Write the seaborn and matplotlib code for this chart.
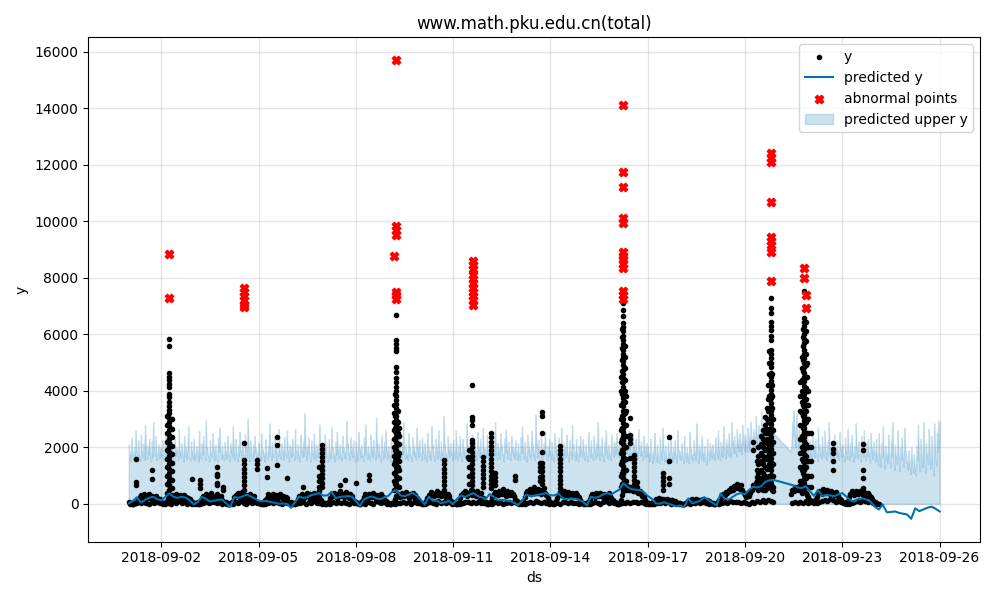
import numpy as np
import pandas as pd
import matplotlib
matplotlib.use("Agg")
import matplotlib.pyplot as plt
import matplotlib.dates as mdates
import seaborn as sns

TITLE = "www.math.pku.edu.cn(total)"
START = "2018-09-01 00:00"
END = "2018-09-26 00:00"

# observed y, hourly (one row per day, 00:00..23:00), None = no data
y_hourly = [
    [80, 30, 10, 0, 40, 20, 60, 150, 240, 310, 200, 350, 270, 160, 260, 330, 200, 290, 240, 150, 280, 210, 100, 170],
    [60, 20, 40, 10, 90, 160, 250, 210, 320, 280, 190, 360, 250, 180, 300, 230, 150, 310, 250, 120, 220, 180, 90, 60],
    [30, 0, 20, 50, 10, 80, 190, 280, 230, 340, 260, 170, 300, 380, 220, 150, 270, 330, 180, 240, 290, 140, 70, 40],
    [50, 10, 0, 30, 20, 110, 230, 300, 260, 370, 210, 290, 410, 250, 180, 320, 270, 200, 350, 230, 160, 260, 110, 60],
    [20, 40, 0, 10, 60, 140, 210, 330, 250, 180, 290, 360, 220, 310, 170, 260, 340, 200, 280, 150, 230, 190, 80, 30],
    [60, 10, 30, 0, 50, 170, 260, 220, 350, 300, 190, 280, 400, 240, 330, 210, 290, 380, 250, 170, 310, 240, 120, 70],
    [40, 20, 0, 30, 80, 200, 310, 260, 390, 330, 220, 300, 450, 280, 360, 240, 310, 420, 260, 190, 330, 270, 150, 90],
    [50, 30, 10, 0, 60, 150, 240, 330, 280, 200, 350, 300, 230, 380, 260, 190, 320, 280, 210, 350, 240, 180, 100, 60],
    [30, 10, 0, 40, 70, 180, 290, 360, 310, 240, 400, 330, 260, 420, 300, 220, 350, 290, 380, 250, 310, 200, 130, 80],
    [40, 20, 0, 30, 90, 210, 320, 280, 410, 350, 260, 380, 460, 300, 390, 270, 340, 430, 290, 220, 360, 260, 150, 70],
    [60, 20, 10, 0, 80, 190, 300, 370, 330, 450, 290, 400, 350, 480, 310, 420, 360, 280, 440, 330, 270, 380, 200, 110],
    [70, 30, 0, 40, 100, 230, 340, 420, 380, 300, 470, 400, 330, 510, 380, 290, 450, 370, 300, 420, 340, 260, 170, 90],
    [50, 20, 30, 0, 110, 250, 380, 460, 400, 540, 350, 480, 610, 420, 370, 520, 440, 330, 490, 560, 380, 300, 190, 100],
    [60, 30, 0, 20, 90, 200, 320, 410, 360, 290, 450, 390, 300, 420, 350, 270, 380, 330, 260, 400, 310, 240, 150, 80],
    [40, 10, 20, 0, 70, 180, 290, 360, 320, 250, 400, 340, 280, 380, 310, 230, 350, 300, 240, 370, 290, 220, 140, 70],
    [50, 20, 0, 30, 120, 300, 450, 560, 500, 620, 480, 580, 520, 450, 600, 500, 420, 380, 460, 330, 280, 240, 150, 80],
    [40, 10, 0, 20, 60, 110, 170, 140, 200, 160, 120, 180, 150, 100, 170, 130, 90, 150, 120, 80, 110, 70, 40, 20],
    [20, 0, 10, 0, 30, 60, 110, 150, 120, 180, 140, 100, 160, 130, 90, 150, 120, 170, 110, 80, 130, 90, 50, 30],
    [20, 0, 10, 30, 50, 120, 200, 280, 350, 300, 420, 380, 500, 450, 560, 480, 620, 550, 700, 600, 520, 650, 480, 400],
    [300, 250, 350, 280, 400, 500, 650, 580, 720, 800, 680, 900, 760, 850, 700, 950, 820, 700, 880, 600, 500, 450, None, None],
    [None, None, None, None, None, None, None, None, None, None, 350, 500, 450, 600, 550, 480, 620, 520, 400, 560, 470, 380, 300, 250],
    [150, 100, 80, 60, 120, 250, 380, 470, 420, 350, 510, 440, 380, 480, 400, 330, 450, 390, 310, 420, 350, 280, 180, 120],
    [80, 40, 20, 50, 110, 230, 350, 440, 390, 320, 470, 410, 350, 440, 370, 300, 420, 360, 290, 380, 320, 250, 160, 100],
    [70, 30, 10],
]

# low observed values, every 2 hours (01:00, 03:00, ..., 23:00)
y_low_2h = [
    [10, 0, 30, 50, 20, 80, 40, 10, 60, 30, 70, 20],
    [0, 20, 40, 10, 60, 30, 90, 20, 50, 10, 40, 0],
    [20, 0, 10, 40, 70, 20, 50, 80, 30, 60, 10, 30],
    [0, 30, 10, 60, 20, 90, 40, 10, 70, 30, 50, 20],
    [30, 10, 0, 20, 50, 30, 80, 40, 10, 60, 20, 40],
    [10, 0, 40, 20, 60, 10, 70, 30, 90, 40, 20, 0],
    [0, 20, 10, 50, 30, 80, 20, 60, 40, 10, 70, 30],
    [20, 0, 30, 10, 70, 40, 10, 90, 50, 20, 60, 10],
    [10, 30, 0, 40, 20, 60, 30, 80, 10, 50, 30, 20],
    [0, 10, 20, 60, 40, 10, 90, 30, 70, 20, 50, 10],
    [30, 0, 10, 20, 80, 50, 20, 60, 30, 90, 40, 20],
    [10, 20, 0, 50, 30, 70, 10, 40, 80, 20, 60, 30],
    [0, 30, 10, 40, 60, 20, 90, 50, 30, 70, 40, 10],
    [20, 0, 30, 10, 50, 80, 30, 60, 20, 40, 10, 30],
    [10, 20, 0, 30, 70, 40, 10, 60, 90, 30, 50, 20],
    [0, 10, 30, 20, 60, 40, 80, 50, 30, 70, 20, 10],
    [20, 0, 10, 40, 30, 60, 20, 50, 10, 40, 30, 0],
    [10, 0, 20, 10, 40, 30, 60, 20, 50, 30, 10, 20],
    [0, 20, 10, 30, 60, 40, 90, 70, 50, 80, 30, 60],
    [40, 10, 60, 30, 90, 50, 120, 80, 150, 100, 60, None],
    [None, None, None, None, None, 30, 80, 20, 60, 40, 90, 30],
    [60, 30, 20, 50, 90, 130, 100, 160, 120, 80, 140, 60],
    [30, 10, 0, 40, 70, 110, 80, 130, 90, 60, 100, 40],
    [20, 0],
]

# dense bursts of observed values: (timestamp, values)
bursts = [
    ("2018-09-01 05:00", [1590, 790, 670]),
    ("2018-09-01 17:00", [1200, 880]),
    ("2018-09-02 04:00", [3100, 2800, 2500, 2200, 1900, 1600, 1300, 1000, 700, 400]),
    ("2018-09-02 06:00", [5830, 5580, 4640, 4500, 4380, 4250, 4120, 3900, 3780, 3620, 3480, 3330, 3200, 3050,
                          2900, 2750, 2600, 2450, 2300, 2150, 2000, 1850, 1700, 1550, 1400, 1250, 1100, 950,
                          800, 650, 500]),
    ("2018-09-02 08:00", [3000, 2650, 2350, 2050, 1750, 1450, 1150, 850, 550]),
    ("2018-09-02 23:00", [880]),
    ("2018-09-03 05:00", [850, 700, 550]),
    ("2018-09-03 17:00", [1300, 1060, 980, 740, 660]),
    ("2018-09-03 22:00", [600, 500]),
    ("2018-09-04 13:00", [2150, 1560, 1400, 1250, 1100, 950, 800, 650, 500]),
    ("2018-09-04 23:00", [1560, 1400, 1250]),
    ("2018-09-05 06:00", [1270, 950]),
    ("2018-09-05 14:00", [2380, 2090, 1380]),
    ("2018-09-05 21:00", [920]),
    ("2018-09-06 09:00", [610]),
    ("2018-09-06 21:00", [1300, 1000, 800, 600, 450]),
    ("2018-09-06 23:00", [2090, 1950, 1800, 1650, 1500, 1350, 1200, 1050, 900, 750, 600]),
    ("2018-09-07 12:00", [670]),
    ("2018-09-07 16:00", [850]),
    ("2018-09-08 00:00", [740]),
    ("2018-09-08 10:00", [1030, 850]),
    ("2018-09-09 04:00", [3500, 3200, 2900, 2600, 2300, 2000, 1700, 1400, 1100, 800, 500]),
    ("2018-09-09 05:00", [3900, 3500, 3100, 2700, 2300, 1900, 1500, 1100, 700]),
    ("2018-09-09 06:00", [6680, 5800, 5650, 5500, 5400, 4850, 4650, 4450, 4300, 4150, 4000, 3800, 3680, 3550,
                          3400, 3250, 3100, 2950, 2800, 2650, 2500, 2350, 2200, 2050, 1900, 1750, 1600, 1450,
                          1300, 1150, 1000, 850, 700, 550]),
    ("2018-09-09 07:00", [3300, 2900, 2500, 2100, 1700, 1300, 900]),
    ("2018-09-09 08:00", [2700, 2400, 2100, 1800, 1500, 1200, 900, 600]),
    ("2018-09-10 17:00", [1560, 1400, 1250, 1100, 950, 800, 650, 500]),
    ("2018-09-11 11:00", [1670]),
    ("2018-09-11 12:00", [1900, 1600, 1300, 1000, 700]),
    ("2018-09-11 14:00", [4190, 3090, 2950, 2800, 2270, 2150, 2000, 1850, 1700, 1550, 1400, 1250, 1100, 950,
                          800, 650, 500]),
    ("2018-09-11 22:00", [1650, 1500, 1350, 1200, 1050, 900, 750, 600]),
    ("2018-09-12 04:00", [2500, 2350, 2200, 2050, 1900, 1750, 1600, 1450, 1300, 1150, 1000, 850, 700, 550]),
    ("2018-09-12 07:00", [1100, 950, 800, 650]),
    ("2018-09-12 22:00", [970, 850]),
    ("2018-09-13 16:00", [1450, 1300, 1150, 950, 800]),
    ("2018-09-13 18:00", [3260, 3100, 2500, 1850, 1450, 1300, 1150, 1000, 850, 700]),
    ("2018-09-14 07:00", [2050, 1900, 1750, 1600, 1450, 1300, 1150, 1000, 850, 700, 550]),
    ("2018-09-16 04:00", [4500, 4000, 3500, 3000, 2600, 2200, 1800, 1400, 1000, 600]),
    ("2018-09-16 05:00", [6200, 5900, 5500, 5100, 4700, 4300, 3900, 3500, 3100, 2700, 2300, 1900, 1500, 1100, 700]),
    ("2018-09-16 06:00", [7100, 6870, 6650, 6400, 6250, 6100, 5950, 5800, 5650, 5450, 5300, 5200, 5050, 4900,
                          4750, 4600, 4450, 4300, 4150, 4040, 3900, 3750, 3600, 3450, 3300, 3150, 3000, 2850,
                          2700, 2550, 2400, 2250, 2100, 1950, 1800, 1650, 1500, 1350, 1200, 1050, 900, 750, 600]),
    ("2018-09-16 07:00", [5600, 5200, 4800, 4400, 4000, 3600, 3200, 2800, 2400, 2000, 1600, 1200, 800]),
    ("2018-09-16 08:00", [3800, 3300, 2800, 2400, 2000, 1600, 1200, 800]),
    ("2018-09-16 11:00", [3040, 2440, 2300, 2160, 1630]),
    ("2018-09-16 14:00", [1740, 1600, 1450, 1300, 1150, 1000, 850, 700, 550]),
    ("2018-09-16 16:00", [780, 610]),
    ("2018-09-17 11:00", [1100, 960, 800, 650, 500]),
    ("2018-09-17 16:00", [2380, 1500, 900, 700]),
    ("2018-09-20 06:00", [2200, 1890]),
    ("2018-09-20 09:00", [1500, 1200, 950, 700]),
    ("2018-09-20 10:00", [2000, 1700, 1400, 1100, 800, 500]),
    ("2018-09-20 12:00", [2400, 2100, 1800, 1500, 1200, 900, 600]),
    ("2018-09-20 13:00", [2600, 2300, 2000, 1700, 1400, 1100, 800, 500]),
    ("2018-09-20 15:00", [3090, 2800, 2500, 2200, 1900, 1600, 1300, 1000, 700, 500]),
    ("2018-09-20 16:00", [3400, 3000, 2650, 2300, 1950, 1600, 1250, 900, 550]),
    ("2018-09-20 17:00", [4200, 3700, 3300, 2900, 2500, 2100, 1700, 1300, 900]),
    ("2018-09-20 18:00", [5400, 5000, 4600, 4200, 3800, 3400, 3000, 2600, 2200, 1800, 1400, 1000, 600]),
    ("2018-09-20 19:00", [7280, 6940, 6760, 6450, 6300, 6150, 5950, 5800, 5450, 5300, 5150, 5000, 4860, 4630,
                          4480, 4330, 4180, 4030, 3880, 3730, 3580, 3430, 3280, 3130, 2980, 2830, 2680, 2530,
                          2380, 2230, 2080, 1930, 1780, 1630, 1480, 1330, 1180, 1030, 880, 730, 580]),
    ("2018-09-20 20:00", [4600, 4200, 3800, 3400, 3000, 2600, 2200, 1800, 1400, 1000, 600]),
    ("2018-09-20 21:00", [3000, 2600, 2200, 1800, 1400, 1000, 600]),
    ("2018-09-21 17:00", [4300, 3800, 3300, 2800, 2300, 1800, 1300, 800]),
    ("2018-09-21 18:00", [5200, 4800, 4400, 4000, 3600, 3200, 2800, 2400, 2000, 1600, 1200, 800]),
    ("2018-09-21 19:00", [6200, 5900, 5600, 5100, 4700, 4300, 3900, 3500, 3100, 2700, 2300, 1900, 1500, 1100, 700]),
    ("2018-09-21 20:00", [7520, 6580, 6450, 6300, 6160, 6000, 5850, 5700, 5450, 5300, 5150, 5000, 4850, 4630,
                          4480, 4330, 4180, 4030, 3880, 3730, 3580, 3430, 3280, 3130, 2980, 2830, 2680, 2530,
                          2380, 2230, 2080, 1930, 1780, 1630, 1480, 1330, 1180, 1030, 880, 730, 580]),
    ("2018-09-21 21:00", [6450, 6100, 5750, 5300, 4900, 4500, 4100, 3700, 3300, 2900, 2500, 2100, 1700, 1300, 900]),
    ("2018-09-21 22:00", [5000, 4500, 4000, 3500, 3000, 2500, 2000, 1500, 1000]),
    ("2018-09-21 23:00", [4000, 3500, 3000, 2500, 2000, 1500, 1000, 600]),
    ("2018-09-22 01:00", [2500, 2000, 1500, 1000, 600]),
    ("2018-09-22 17:00", [2160, 1950, 1800, 1500, 1200]),
    ("2018-09-23 15:00", [2100, 1900, 1200, 900, 560]),
]

# abnormal points (timestamp, values)
abnormal = [
    ("2018-09-02 06:00", [8850, 7280]),
    ("2018-09-04 13:00", [7650, 7500, 7350, 7200, 7050, 6950]),
    ("2018-09-09 04:00", [8780]),
    ("2018-09-09 06:00", [15700, 9850, 9700, 9500, 7500, 7380, 7250]),
    ("2018-09-11 15:00", [8600, 8450, 8300, 8100, 7950, 7800, 7650, 7500, 7350, 7200, 7050]),
    ("2018-09-16 06:00", [14120, 11730, 11210, 10100, 9950, 8900, 8780, 8650, 8500, 8350, 7550, 7400, 7250]),
    ("2018-09-20 19:00", [12400, 12250, 12100, 10700, 9450, 9300, 9150, 8900, 7870]),
    ("2018-09-21 20:00", [8340, 7990]),
    ("2018-09-21 21:00", [7400, 6930]),
]

# predicted y, every 3 hours (00,03,...,21), None = no ds
yhat_3h = [
    [20, 100, 230, 40, 140, 210, 250, 170],
    [120, 250, 370, 250, 210, 250, 220, 130],
    [-20, 60, 250, 180, 80, 110, 140, 150],
    [20, -120, 240, 210, 260, 320, 270, 190],
    [110, 90, 100, 60, 40, 0, 10, 0],
    [-140, 60, 260, 210, 230, 310, 340, 380],
    [290, 300, 430, 200, 240, 260, 270, 260],
    [100, -80, 160, 220, 260, 200, 160, 230],
    [280, 430, 490, 300, 270, 320, 390, 300],
    [150, -20, 250, 110, 120, 20, 60, 100],
    [-10, 180, 300, 240, 320, 380, 280, 230],
    [160, 350, 250, 130, 140, 120, 90, 40],
    [-40, 100, 320, 280, 280, 320, 350, 380],
    [300, 300, 370, 200, 160, 190, 180, 150],
    [80, -60, 250, 210, 250, 330, 380, 330],
    [420, 500, 730, 600, 520, 500, 490, 420],
    [280, 180, 20, 0, 60, 10, -40, -90],
    [-60, -120, 190, 20, 60, 120, 230, 140],
    [40, -60, 370, 170, 150, 250, 340, 380],
    [340, 490, 600, 580, 620, 780, 830, 850],
    [None, None, None, None, 650, 580, 560, 620],
    [450, 280, 490, 280, 310, 300, 270, 330],
    [380, 260, 120, 80, 180, 190, 150, 70],
    [-100, -200, -30, -300, -290, -270, -320, -350],
    [-380, -530, -160, -260, -200, -140, -100, -170],
]
yhat_end = -270

# predicted upper y, on the hour (00:00..23:00)
upper_hourly = [
    [2100, 1850, 2350, 1700, 2000, 2600, 1800, 2250, 1650, 2450, 1900, 2150, 2800, 1750, 2050, 2300, 1600, 2200, 2900, 1950, 2400, 1700, 2100, 2000],
    [1950, 2250, 1700, 2500, 1850, 2050, 3100, 1750, 2200, 1600, 2350, 2000, 1800, 2650, 1900, 2150, 1700, 2400, 2050, 1850, 2750, 1650, 2200, 1900],
    [2300, 1750, 2050, 1900, 2600, 1650, 2150, 2400, 1800, 2950, 2000, 1700, 2250, 1850, 2500, 1950, 2100, 1600, 2350, 2700, 1800, 2050, 1750, 2200],
    [1850, 2400, 1700, 2150, 2000, 2750, 1800, 2300, 1650, 2100, 2550, 1900, 2200, 1750, 2450, 2050, 3000, 1850, 2250, 1700, 2100, 2400, 1950, 1800],
    [2150, 1700, 2500, 1950, 1800, 2300, 1650, 2050, 2850, 1900, 2200, 1750, 2400, 2000, 1850, 2650, 1700, 2150, 1950, 2350, 1800, 2600, 1900, 2100],
    [2000, 2300, 1750, 2650, 1850, 2100, 1700, 2450, 1950, 2200, 3200, 1800, 2050, 2350, 1650, 2250, 1900, 2500, 1750, 2100, 2000, 2800, 1850, 2150],
    [1900, 2450, 2050, 1700, 2300, 1850, 2700, 2000, 1750, 2200, 2550, 1900, 2100, 1650, 2400, 2000, 1850, 2950, 2150, 1800, 2350, 1950, 2250, 1700],
    [2200, 1800, 2550, 1950, 2100, 1700, 2350, 2800, 1850, 2050, 1750, 2450, 2000, 2250, 1800, 3050, 1950, 2150, 1700, 2400, 1900, 2200, 2600, 1850],
    [2050, 1750, 2300, 2000, 2650, 1850, 2150, 1950, 2450, 1700, 2200, 2900, 1900, 2100, 1800, 2500, 2000, 1750, 2350, 2050, 1850, 2700, 2000, 2250],
    [1800, 2350, 1950, 2150, 1700, 2500, 2000, 1850, 2750, 2100, 1750, 2300, 1950, 2600, 1800, 2200, 1900, 3100, 2050, 1750, 2400, 1950, 2150, 1850],
    [2250, 1900, 2600, 1800, 2100, 2400, 1750, 2300, 2000, 1850, 2850, 2050, 1700, 2200, 2450, 1950, 2150, 1800, 2550, 2000, 2300, 1850, 2700, 1950],
    [2000, 2450, 1850, 2200, 1700, 2350, 2050, 2900, 1800, 2150, 1950, 2500, 2100, 1750, 2300, 2650, 1900, 2200, 1800, 2400, 2050, 1950, 2250, 1850],
    [2150, 1800, 2350, 2750, 1950, 2200, 1700, 2450, 2050, 1900, 2600, 2100, 1850, 3150, 2000, 2250, 1750, 2400, 1950, 2150, 2550, 1800, 2050, 2300],
    [1900, 2200, 1750, 2500, 2050, 1850, 2350, 1950, 2700, 1800, 2150, 2000, 2450, 1700, 2250, 1950, 2800, 2100, 1850, 2300, 1750, 2050, 2400, 1950],
    [2300, 1850, 2100, 1700, 2550, 2000, 2250, 1800, 2400, 1950, 2150, 2900, 1850, 2050, 2350, 1750, 2200, 2600, 1900, 2100, 1800, 2450, 2000, 2200],
    [2150, 2500, 1950, 2300, 2100, 2750, 2400, 2950, 2250, 2050, 2600, 2200, 1950, 2450, 2100, 2300, 1900, 2650, 2050, 2200, 1850, 2400, 2000, 2150],
    [2050, 1800, 2300, 1700, 1950, 2500, 1750, 2100, 1650, 2350, 1900, 2700, 1800, 2050, 1600, 2200, 1850, 2450, 1750, 2000, 2250, 1700, 2600, 1900],
    [1850, 2150, 1650, 2400, 1800, 2000, 1700, 2550, 1950, 1750, 2250, 1850, 2850, 1700, 2100, 1950, 2400, 1800, 2050, 1650, 2300, 1900, 2150, 2000],
    [2100, 1800, 2350, 1950, 2600, 1850, 2200, 2050, 2750, 1900, 2300, 2150, 2500, 2000, 2900, 2250, 2400, 2100, 2650, 2300, 2500, 2200, 2800, 2350],
    [2450, 2250, 2700, 2400, 2900, 2350, 2650, 2550, 3100, 2450, 2800, 2600, 3250, 2500, 2900, 2700, 3300, 2550, 2850, 2600, 2750, 2500, None, None],
    [None, None, None, None, None, None, None, None, None, None, 1850, 2900, 3300, 2500, 3200, 2400, 2850, 2300, 2650, 2150, 2500, 2050, 2350, 2000],
    [2250, 1850, 2500, 2050, 2300, 1800, 2700, 2100, 1950, 2400, 2000, 2600, 1850, 2200, 2900, 1950, 2150, 1800, 2450, 2050, 2250, 1900, 2550, 2000],
    [2100, 1750, 2350, 1950, 2650, 1850, 2150, 2450, 1800, 2050, 2850, 1900, 2200, 1750, 2400, 2000, 2600, 1850, 2150, 2300, 1700, 2500, 1950, 2200],
    [1900, 2300, 1700, 2500, 1600, 2150, 2750, 1550, 2050, 1800, 2450, 1650, 2250, 2900, 1500, 2100, 1750, 2600, 1450, 2000, 2350, 1600, 2700, 1850],
    [1500, 1900, 1300, 2000, 1400, 1750, 1200, 2050, 2800, 1450, 2300, 1650, 2900, 1350, 2150, 1800, 2650, 1550, 2400, 1250, 2850, 1700, 2500, 2950],
]
# predicted upper y, on the half hour (00:30..23:30)
upper_half = [
    [1650, 1500, 1800, 1550, 1700, 1900, 1600, 1750, 1500, 1850, 1650, 1550, 2100, 1600, 1750, 1900, 1500, 1650, 2000, 1700, 1550, 1800, 1600, 1700],
    [1700, 1550, 1850, 1600, 1500, 1750, 2200, 1650, 1800, 1500, 1700, 1900, 1550, 1750, 1650, 1850, 1500, 1700, 1600, 1950, 1650, 1550, 1800, 1600],
    [1550, 1800, 1650, 1500, 1900, 1600, 1750, 1850, 1550, 2000, 1700, 1500, 1800, 1650, 1900, 1550, 1750, 1500, 1850, 2050, 1600, 1700, 1550, 1750],
    [1600, 1750, 1500, 1850, 1650, 1950, 1550, 1800, 1500, 1700, 1850, 1600, 1750, 1550, 1900, 1650, 2150, 1500, 1800, 1600, 1700, 1850, 1550, 1650],
    [1750, 1550, 1800, 1650, 1500, 1850, 1600, 1700, 2050, 1550, 1800, 1650, 1900, 1500, 1700, 1950, 1600, 1750, 1550, 1800, 1650, 1900, 1500, 1700],
    [1650, 1800, 1550, 1900, 1600, 1750, 1500, 1850, 1650, 1700, 2300, 1550, 1800, 1650, 1500, 1750, 1600, 1900, 1550, 1700, 1650, 2000, 1600, 1750],
    [1550, 1850, 1700, 1500, 1800, 1600, 1950, 1650, 1500, 1750, 1900, 1600, 1700, 1550, 1850, 1650, 1600, 2100, 1750, 1550, 1800, 1650, 1700, 1500],
    [1800, 1550, 1900, 1650, 1700, 1500, 1750, 2000, 1600, 1700, 1550, 1850, 1650, 1800, 1550, 2150, 1650, 1750, 1500, 1850, 1600, 1700, 1950, 1600],
    [1700, 1500, 1750, 1650, 1950, 1600, 1800, 1550, 1850, 1500, 1750, 2100, 1600, 1700, 1550, 1900, 1650, 1500, 1800, 1700, 1550, 1950, 1650, 1750],
    [1550, 1800, 1600, 1750, 1500, 1850, 1650, 1550, 2000, 1700, 1500, 1800, 1600, 1900, 1550, 1750, 1600, 2200, 1700, 1500, 1850, 1650, 1750, 1550],
    [1750, 1600, 1900, 1550, 1700, 1850, 1500, 1800, 1650, 1550, 2050, 1700, 1500, 1750, 1850, 1600, 1700, 1550, 1900, 1650, 1800, 1550, 1950, 1650],
    [1650, 1850, 1550, 1750, 1500, 1800, 1700, 2100, 1550, 1750, 1600, 1900, 1700, 1500, 1800, 1950, 1600, 1750, 1550, 1850, 1700, 1600, 1750, 1550],
    [1700, 1550, 1800, 2000, 1600, 1750, 1500, 1850, 1700, 1600, 1900, 1700, 1550, 2250, 1650, 1800, 1500, 1850, 1600, 1750, 1900, 1550, 1700, 1800],
    [1600, 1750, 1500, 1850, 1700, 1550, 1800, 1650, 1950, 1550, 1750, 1650, 1850, 1500, 1750, 1600, 2000, 1700, 1550, 1800, 1500, 1700, 1850, 1650],
    [1800, 1550, 1700, 1500, 1900, 1650, 1750, 1550, 1850, 1600, 1700, 2100, 1550, 1700, 1800, 1500, 1750, 1950, 1600, 1700, 1550, 1850, 1650, 1750],
    [1750, 1900, 1650, 1800, 1700, 2000, 1850, 2150, 1800, 1700, 1950, 1750, 1650, 1850, 1700, 1800, 1600, 1950, 1700, 1750, 1550, 1850, 1650, 1700],
    [1650, 1500, 1800, 1450, 1600, 1900, 1500, 1700, 1450, 1800, 1550, 2000, 1500, 1650, 1400, 1750, 1550, 1850, 1500, 1600, 1750, 1450, 1900, 1600],
    [1550, 1700, 1450, 1800, 1500, 1650, 1450, 1900, 1600, 1500, 1750, 1550, 2100, 1450, 1700, 1600, 1800, 1500, 1650, 1400, 1750, 1550, 1700, 1600],
    [1700, 1550, 1800, 1600, 1950, 1550, 1750, 1650, 2000, 1600, 1800, 1700, 1900, 1650, 2100, 1800, 1850, 1700, 2000, 1850, 1900, 1750, 2100, 1850],
    [1950, 1850, 2100, 1900, 2250, 1850, 2050, 2000, 2350, 1950, 2150, 2050, 2450, 1950, 2200, 2100, 2500, 2000, 2200, 2050, 2150, None, None, None],
    [None, None, None, None, None, None, None, None, None, None, 2200, 2400, 2600, 2000, 2500, 1950, 2200, 1850, 2050, 1750, 1950, 1700, 1850, 1650],
    [1750, 1550, 1850, 1650, 1750, 1500, 1950, 1700, 1600, 1800, 1650, 1900, 1550, 1750, 2100, 1600, 1700, 1500, 1850, 1650, 1750, 1550, 1900, 1650],
    [1700, 1500, 1800, 1600, 1950, 1550, 1700, 1850, 1500, 1650, 2050, 1600, 1750, 1500, 1800, 1650, 1900, 1550, 1700, 1800, 1450, 1850, 1600, 1750],
    [1500, 1750, 1350, 1850, 1300, 1650, 1950, 1250, 1600, 1450, 1800, 1300, 1700, 2050, 1200, 1650, 1400, 1900, 1150, 1550, 1750, 1300, 1950, 1450],
    [1200, 1500, 1050, 1600, 1100, 1400, 1000, 1550, 2000, 1150, 1750, 1300, 2100, 1100, 1650, 1400, 1950, 1250, 1800, 1000, 2050, 1350, 1850, 2150],
]
upper_end = 2900

x_ticks = ["2018-09-02", "2018-09-05", "2018-09-08", "2018-09-11", "2018-09-14",
           "2018-09-17", "2018-09-20", "2018-09-23", "2018-09-26"]


def expand(rows, step, offset=0.0):
    t0 = pd.Timestamp(START)
    ts, vs = [], []
    for d, row in enumerate(rows):
        for i, v in enumerate(row):
            if v is None:
                continue
            ts.append(t0 + pd.Timedelta(days=d, hours=offset + i * step))
            vs.append(v)
    return ts, vs


def explode(pairs):
    ts, vs = [], []
    for t, vals in pairs:
        ts += [pd.Timestamp(t)] * len(vals)
        vs += list(vals)
    return ts, vs


t1, v1 = expand(y_hourly, 1)
t2, v2 = expand(y_low_2h, 2, 1)
t3, v3 = explode(bursts)
obs = pd.DataFrame({"ds": t1 + t2 + t3, "y": v1 + v2 + v3})

ta, va = explode(abnormal)
ab = pd.DataFrame({"ds": ta, "y": va})

th, vh = expand(yhat_3h, 3)
th.append(pd.Timestamp(END)); vh.append(yhat_end)
fc = pd.DataFrame({"ds": th, "yhat": vh})

tu1, vu1 = expand(upper_hourly, 1)
tu2, vu2 = expand(upper_half, 1, 0.5)
up = pd.DataFrame({"ds": tu1 + tu2 + [pd.Timestamp(END)], "upper": vu1 + vu2 + [upper_end]})
up = up.sort_values("ds").reset_index(drop=True)

fig, ax = plt.subplots(figsize=(10, 6), dpi=100, facecolor="w")

ax.fill_between(up["ds"], 0, up["upper"], color="#0072B2", alpha=0.2,
                label="predicted upper y", zorder=1)
sns.scatterplot(data=obs, x="ds", y="y", color="k", marker="o", s=9,
                linewidth=1, edgecolor="k", ax=ax, label="y", zorder=2)
sns.lineplot(data=fc, x="ds", y="yhat", color="#0072B2", linewidth=1.5,
             estimator=None, sort=False, ax=ax, label="predicted y", zorder=3)
sns.scatterplot(data=ab, x="ds", y="y", color="red", marker="X", s=36,
                linewidth=1, edgecolor="red", ax=ax, label="abnormal points", zorder=4)

ax.grid(True, which="major", c="gray", ls="-", lw=1, alpha=0.2)
ax.set_xticks(pd.to_datetime(x_ticks))
ax.xaxis.set_major_formatter(mdates.DateFormatter("%Y-%m-%d"))
ax.set_xlabel("ds")
ax.set_ylabel("y")
ax.set_title(TITLE)

handles, labels = ax.get_legend_handles_labels()
order = ["y", "predicted y", "abnormal points", "predicted upper y"]
hmap = dict(zip(labels, handles))
leg = ax.get_legend()
if leg is not None:
    leg.remove()
ax.legend([hmap[k] for k in order], order, loc="upper right")

fig.tight_layout()
fig.savefig("out.png", dpi=100)
